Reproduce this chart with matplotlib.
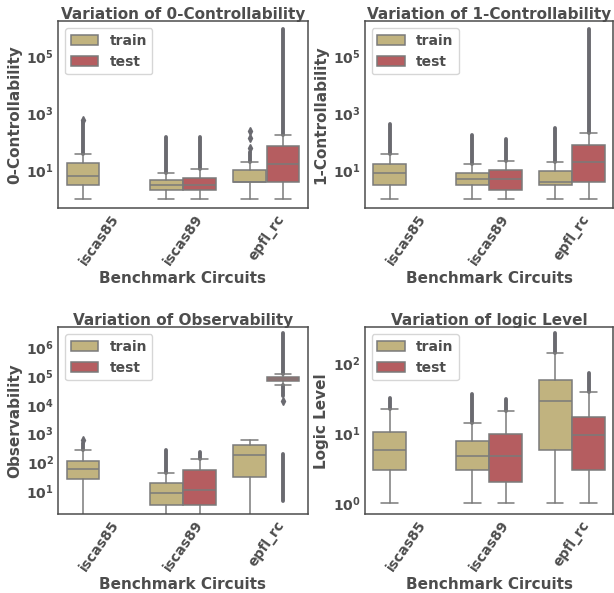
import numpy as np
import matplotlib.pyplot as plt
import seaborn as sns

sns.set_theme(style='white')
plt.rcParams['font.family'] = ['DejaVu Sans']
plt.rcParams['font.weight'] = 'bold'
txt = '#4d4d4d'
for k in ['text.color', 'axes.labelcolor', 'xtick.color', 'ytick.color', 'axes.edgecolor']:
    plt.rcParams[k] = txt

circuits = ['iscas85', 'iscas89', 'epfl_rc']
groups = ['train', 'test']

# box stats per circuit: whisker low, q1, median, q3, whisker high (None = no box)
c0_train = [[1, 3, 6.5, 18, 38], [1, 2, 3, 4.7, 8], [1, 4, 4, 10, 19]]
c0_test = [None, [1, 2, 3, 5.5, 11], [1, 4, 17, 71, 173]]
# dense runs of outliers (from, to) and single outliers
c0_train_runs = [(38, 560), (8, 148), (19, 45)]
c0_train_dots = [[600], [], [60, 133, 250]]
c0_test_runs = [None, (11, 148), (173, 9e5)]
c0_test_dots = [[], [], []]

c1_train = [[1, 3, 8.3, 17, 38], [1, 3, 5, 8.3, 17], [1, 3, 4, 9.2, 19]]
c1_test = [None, [1, 2, 5, 10, 22], [1, 4, 20, 80, 200]]
c1_train_runs = [(38, 410), (17, 170), (19, 300)]
c1_train_dots = [[], [], []]
c1_test_runs = [None, (22, 130), (200, 9.3e5)]
c1_test_dots = [[], [], []]

ob_train = [[1, 27, 60, 110, 265], [1, 3.3, 8.5, 19, 44], [1, 32, 180, 400, 600]]
ob_test = [None, [1, 3.3, 11, 54, 132], [4.7e4, 6.8e4, 8e4, 9.2e4, 1.2e5]]
ob_train_runs = [(265, 480), (44, 280), None]
ob_train_dots = [[600], [], []]
ob_test_runs = [None, (132, 225), (1.2e5, 3e6)]
ob_test_dots = [[], [], [1.4e4]]
ob_test_runs2 = [None, None, (4.5, 190)]
ob_test_runs3 = [None, None, (2e4, 4.7e4)]

ll_train = [[1, 3, 5.8, 10.5, 22], [1, 3, 4.8, 7.8, 14], [1, 5.8, 29, 58, 140]]
ll_test = [None, [1, 2, 4.8, 9.8, 21], [1, 3, 9.5, 17, 39]]
ll_train_runs = [(22, 32), (14, 36), (140, 270)]
ll_train_dots = [[], [], []]
ll_test_runs = [None, (21, 31), (39, 72)]
ll_test_dots = [[], [], []]

colors = [sns.desaturate('#CCB974', 0.75), sns.desaturate('#C44E52', 0.75)]
gray = '#7a7a7a'
fgray = '#6a6a70'
offsets = [-0.2, 0.2]
width = 0.392

fig = plt.figure(figsize=(6.14, 5.93), dpi=100)
pos = [[0.0945, 0.649, 0.407, 0.315], [0.594, 0.649, 0.405, 0.315],
       [0.0945, 0.133, 0.407, 0.315], [0.594, 0.133, 0.405, 0.315]]


def draw(ax, boxes, runs, dots, title, ylabel, ylim, yticks):
    for g in range(2):
        for i in range(3):
            st = boxes[g][i]
            if st is None:
                continue
            x = i + offsets[g]
            stats = [dict(whislo=st[0], q1=st[1], med=st[2], q3=st[3], whishi=st[4], fliers=dots[g][i])]
            ax.bxp(stats, positions=[x], widths=width, patch_artist=True,
                   boxprops=dict(facecolor=colors[g], edgecolor=gray, linewidth=1.1),
                   whiskerprops=dict(color=gray, linewidth=1.1),
                   capprops=dict(color=gray, linewidth=1.1),
                   medianprops=dict(color=gray, linewidth=1.1),
                   flierprops=dict(marker='d', markersize=4, markerfacecolor=fgray,
                                   markeredgecolor=fgray, linestyle='none'),
                   manage_ticks=False)
        for rs in runs:
            rl = rs[g]
            for i in range(3):
                r = rl[i]
                if r is None:
                    continue
                x = i + offsets[g]
                ax.vlines(x, r[0], r[1], color=fgray, linewidth=2.8, zorder=1, capstyle='round')
    ax.set_yscale('log')
    ax.set_ylim(*ylim)
    ax.set_xlim(-0.5, 2.5)
    ax.set_xticks(range(3))
    ax.set_xticklabels(circuits, rotation=55, fontsize=10, fontweight='bold')
    ax.set_yticks(yticks)
    ax.set_yticklabels([r'$\mathbf{10^{%d}}$' % int(np.log10(t)) for t in yticks], fontsize=10)
    ax.yaxis.set_minor_formatter(plt.NullFormatter())
    ax.tick_params(axis='both', which='both', length=0, pad=3)
    ax.set_title(title, fontsize=11, fontweight='bold', pad=2)
    ax.set_ylabel(ylabel, fontsize=11, fontweight='bold', labelpad=3)
    ax.set_xlabel('Benchmark Circuits', fontsize=11, fontweight='bold', labelpad=2)
    for s in ax.spines.values():
        s.set_color(txt)
        s.set_linewidth(1.1)
    handles = [plt.Rectangle((0, 0), 1, 1, facecolor=colors[g], edgecolor=gray, linewidth=1.1) for g in range(2)]
    leg = ax.legend(handles, groups, loc='upper left', fontsize=10, frameon=True)
    for t in leg.get_texts():
        t.set_fontweight('bold')


ax = fig.add_axes(pos[0])
draw(ax, [c0_train, c0_test], [[c0_train_runs, c0_test_runs]], [c0_train_dots, c0_test_dots],
     'Variation of 0-Controllability', '0-Controllability', (0.47, 1.7e6), [1e1, 1e3, 1e5])
ax = fig.add_axes(pos[1])
draw(ax, [c1_train, c1_test], [[c1_train_runs, c1_test_runs]], [c1_train_dots, c1_test_dots],
     'Variation of 1-Controllability', '1-Controllability', (0.47, 1.7e6), [1e1, 1e3, 1e5])
ax = fig.add_axes(pos[2])
draw(ax, [ob_train, ob_test], [[ob_train_runs, ob_test_runs], [[None] * 3, ob_test_runs2], [[None] * 3, ob_test_runs3]],
     [ob_train_dots, ob_test_dots],
     'Variation of Observability', 'Observability', (1.6, 4.9e6), [1e1, 1e2, 1e3, 1e4, 1e5, 1e6])
ax = fig.add_axes(pos[3])
draw(ax, [ll_train, ll_test], [[ll_train_runs, ll_test_runs]], [ll_train_dots, ll_test_dots],
     'Variation of logic Level', 'Logic Level', (0.70, 324), [1, 10, 100])

fig.savefig('out.png', dpi=100)
